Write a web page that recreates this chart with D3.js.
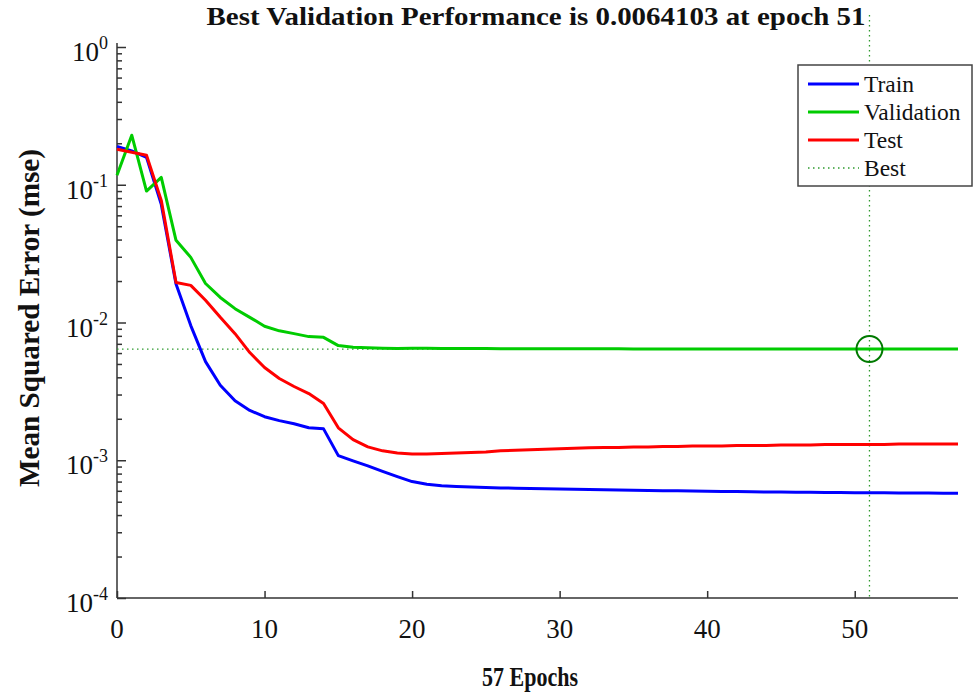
<!DOCTYPE html>
<html>
<head>
<meta charset="utf-8">
<script src="https://cdn.jsdelivr.net/npm/d3@7"></script>
<style>
  body { margin: 0; background: #fff; }
  text { font-family: "Liberation Serif", "Times New Roman", serif; fill: #111; }
</style>
</head>
<body>
<div id="chart"></div>
<script>
// epochs 0..57
const epochs = d3.range(0, 58)

const train = [0.19, 0.176, 0.158, 0.072, 0.019, 0.0095, 0.0052, 0.0035, 0.0027, 0.0023,
  0.00207, 0.00194, 0.00184, 0.00172, 0.00169, 0.00108, 0.00099, 0.00091, 0.00083, 0.00076,
  0.0007, 0.00067, 0.000653, 0.000645, 0.00064, 0.000635, 0.00063, 0.000627, 0.000624, 0.000621,
  0.000619, 0.000616, 0.000613, 0.00061, 0.000608, 0.000605, 0.000603, 0.000601, 0.0006, 0.000598,
  0.000596, 0.000594, 0.000592, 0.00059, 0.000589, 0.000587, 0.000586, 0.000585, 0.000584, 0.000583,
  0.000582, 0.000581, 0.00058, 0.000579, 0.000578, 0.000578, 0.000577, 0.000576]

const validation = [0.117, 0.229, 0.09, 0.113, 0.0395, 0.0297, 0.0192, 0.0152, 0.0126, 0.0109,
  0.0094, 0.0087, 0.0083, 0.0079, 0.0078, 0.0068, 0.0066, 0.00655, 0.0065, 0.00648,
  0.0065, 0.00649, 0.00648, 0.00648, 0.00647, 0.00647, 0.00646, 0.00646, 0.00646, 0.00645,
  0.00645, 0.00645, 0.00644, 0.00644, 0.00644, 0.00643, 0.00643, 0.00643, 0.00643, 0.00642,
  0.00642, 0.00642, 0.00642, 0.00642, 0.00641, 0.00641, 0.00641, 0.00641, 0.00641, 0.00641,
  0.00641, 0.0064103, 0.006411, 0.006412, 0.006412, 0.006413, 0.006413, 0.006414]

const test = [0.181, 0.172, 0.164, 0.077, 0.0195, 0.0186, 0.0145, 0.0109, 0.0083, 0.00605,
  0.00471, 0.00392, 0.00343, 0.00305, 0.00258, 0.00172, 0.00141, 0.00125, 0.00117, 0.00113,
  0.00111, 0.00111, 0.00112, 0.00113, 0.00114, 0.00115, 0.00117, 0.00118, 0.00119, 0.0012,
  0.00121, 0.00122, 0.00123, 0.00124, 0.00124, 0.00125, 0.00125, 0.00126, 0.00126, 0.00127,
  0.00127, 0.00127, 0.00128, 0.00128, 0.00128, 0.00129, 0.00129, 0.00129, 0.0013, 0.0013,
  0.0013, 0.0013, 0.0013, 0.00131, 0.00131, 0.00131, 0.00131, 0.00131]

const bestEpoch = 51
const bestValue = 0.0064103
const xTicks = [0, 10, 20, 30, 40, 50]
const yExponents = [0, -1, -2, -3, -4]
const seriesNames = ["Train", "Validation", "Test", "Best"]

// set the dimensions of the graph
const width = 974, height = 695
const plotLeft = 117, plotRight = 958, plotTop = 47, plotBottom = 598

const svg = d3.select("#chart")
  .append("svg")
  .attr("width", width)
  .attr("height", height)

const x = d3.scaleLinear().domain([0, 57]).range([plotLeft, plotRight])
const y = d3.scaleLog().domain([1e-4, 1]).range([plotBottom, plotTop])

// axes, ticks pointing inward like matlab
const minorTicks = []
yExponents.slice(1).forEach(e => {
  for (let m = 2; m <= 9; m++) minorTicks.push(m * Math.pow(10, e))
})

const yAxis = svg.append("g")
  .attr("transform", "translate(" + plotLeft + ",0)")
  .call(d3.axisLeft(y).tickValues(yExponents.map(e => Math.pow(10, e))).tickSize(-9).tickSizeOuter(0).tickFormat(""))
yAxis.append("g")
  .call(d3.axisLeft(y).tickValues(minorTicks).tickSize(-5).tickSizeOuter(0).tickFormat(""))
  .select(".domain").remove()
yAxis.select(".domain").attr("d", "M0," + (plotTop - 4) + "V" + plotBottom)

const xAxis = svg.append("g")
  .attr("transform", "translate(0," + plotBottom + ")")
  .call(d3.axisBottom(x).tickValues(xTicks).tickSize(-7).tickSizeOuter(0).tickFormat(""))
xAxis.select(".domain").attr("d", "M" + plotLeft + ",0H" + plotRight)

svg.selectAll(".domain, .tick line")
  .attr("stroke", "#333")
  .attr("stroke-width", 1.5)

// y tick labels as 10^e
yExponents.forEach(e => {
  const t = svg.append("text")
    .attr("x", 108)
    .attr("y", y(Math.pow(10, e)) + 14)
    .attr("text-anchor", "end")
    .style("font-size", "27px")
  t.append("tspan").text("10")
  t.append("tspan").attr("dy", -12).style("font-size", "18px").text(e)
})

// x tick labels
svg.selectAll(".xlabel")
  .data(xTicks)
  .join("text")
  .attr("class", "xlabel")
  .attr("x", d => x(d))
  .attr("y", 638)
  .attr("text-anchor", "middle")
  .style("font-size", "27px")
  .text(d => d)

// titles
svg.append("text")
  .attr("x", 536).attr("y", 25)
  .attr("text-anchor", "middle")
  .attr("textLength", 659).attr("lengthAdjust", "spacingAndGlyphs")
  .style("font-size", "25px").style("font-weight", "bold")
  .text("Best Validation Performance is " + bestValue + " at epoch " + bestEpoch)

svg.append("text")
  .attr("x", 530).attr("y", 686)
  .attr("text-anchor", "middle")
  .attr("textLength", 96).attr("lengthAdjust", "spacingAndGlyphs")
  .style("font-size", "28px").style("font-weight", "bold")
  .text("57 Epochs")

svg.append("text")
  .attr("transform", "translate(39,318) rotate(-90)")
  .attr("text-anchor", "middle")
  .attr("textLength", 338).attr("lengthAdjust", "spacingAndGlyphs")
  .style("font-size", "29px").style("font-weight", "bold")
  .text("Mean Squared Error  (mse)")

// best lines
svg.append("line")
  .attr("x1", plotLeft).attr("x2", plotRight)
  .attr("y1", y(bestValue)).attr("y2", y(bestValue))
  .attr("stroke", "#2e9a2e").attr("stroke-width", 1.3)
  .attr("stroke-dasharray", "1.5,3.5")
svg.append("line")
  .attr("x1", x(bestEpoch)).attr("x2", x(bestEpoch))
  .attr("y1", 15).attr("y2", plotBottom)
  .attr("stroke", "#2e9a2e").attr("stroke-width", 1.3)
  .attr("stroke-dasharray", "1.5,3.5")

// loss curves
const line = d3.line()
  .x((d, i) => x(epochs[i]))
  .y(d => y(d))

const curves = [
  {name: "Train", values: train, color: "#0000ff"},
  {name: "Validation", values: validation, color: "#00cc00"},
  {name: "Test", values: test, color: "#ff0000"}
]

svg.selectAll(".curve")
  .data(curves)
  .join("path")
  .attr("class", "curve")
  .attr("d", d => line(d.values))
  .attr("fill", "none")
  .attr("stroke", d => d.color)
  .attr("stroke-width", 3)
  .attr("stroke-linejoin", "round")

// best marker
svg.append("circle")
  .attr("cx", x(bestEpoch)).attr("cy", y(bestValue))
  .attr("r", 13)
  .attr("fill", "none")
  .attr("stroke", "#007a00")
  .attr("stroke-width", 2)

// legend
const legend = svg.append("g").attr("transform", "translate(798,65)")
legend.append("rect")
  .attr("width", 174).attr("height", 121)
  .attr("fill", "#fff")
  .attr("stroke", "#444").attr("stroke-width", 1.5)

const legendColors = ["#0000ff", "#00cc00", "#ff0000", "#2e9a2e"]
seriesNames.forEach((name, i) => {
  const ly = 19 + i * 28
  legend.append("line")
    .attr("x1", 10).attr("x2", 61)
    .attr("y1", ly).attr("y2", ly)
    .attr("stroke", legendColors[i])
    .attr("stroke-width", name === "Best" ? 1.3 : 3)
    .attr("stroke-dasharray", name === "Best" ? "1.5,3.5" : null)
  legend.append("text")
    .attr("x", 66).attr("y", ly + 8)
    .style("font-size", "23.5px")
    .text(name)
})
</script>
</body>
</html>
